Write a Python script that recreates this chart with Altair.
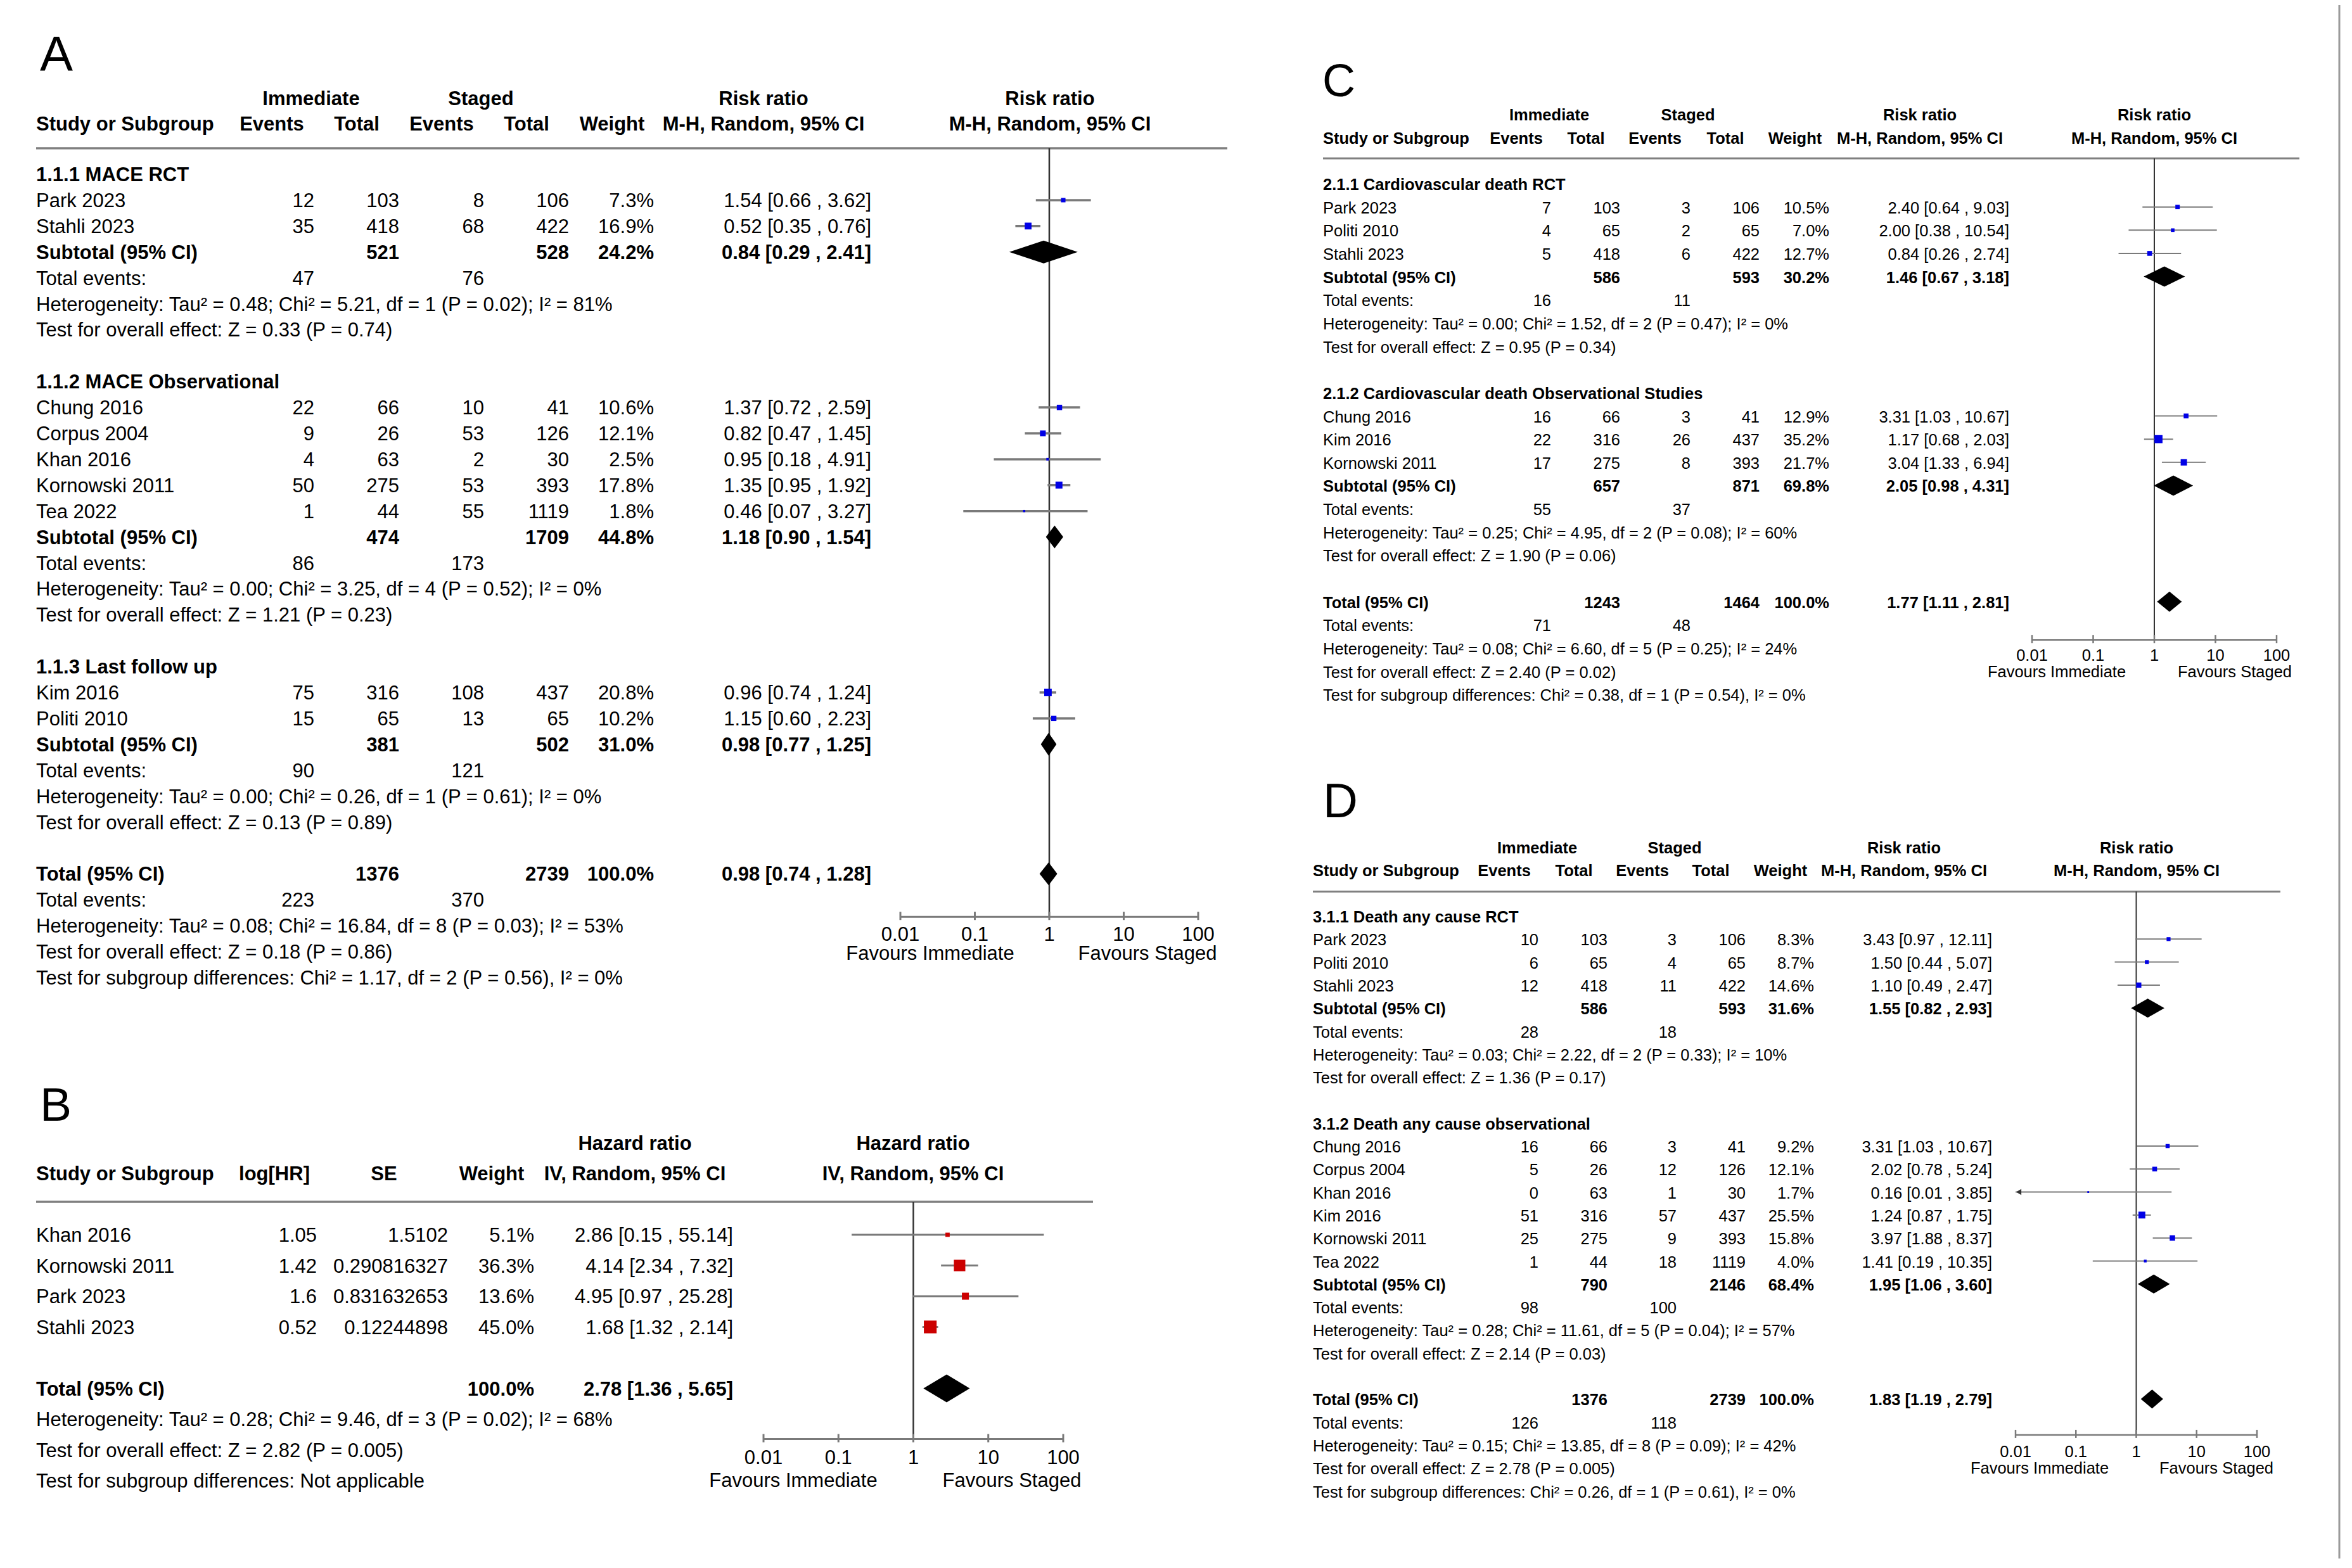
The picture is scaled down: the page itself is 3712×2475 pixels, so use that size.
import altair as alt
import pandas as pd

FONT = "Liberation Sans"
OX, OY = 8, 8
W, H = 3696, 2452
LINE_COL = "#808080"
CI_COL = "#7a7a7a"
NULL_COL = "#333333"
FRAME_COL = "#9a9a9a"
BLUE = "#0000e6"
RED = "#cc0000"

AX_TICKS = [0.01, 0.1, 1, 10, 100]
AX_LABELS = ["0.01", "0.1", "1", "10", "100"]
FAVOURS = ["Favours Immediate", "Favours Staged"]

RR_HEAD_TOP = ["Immediate", "Staged", "Risk ratio", "Risk ratio"]
RR_HEAD_BOT = ["Study or Subgroup", "Events", "Total", "Events", "Total", "Weight",
               "M-H, Random, 95% CI", "M-H, Random, 95% CI"]
B_HEAD_TOP = ["Hazard ratio", "Hazard ratio"]
B_HEAD_BOT = ["Study or Subgroup", "log[HR]", "SE", "Weight",
              "IV, Random, 95% CI", "IV, Random, 95% CI"]

# ===================== Panel A : MACE =====================
A_groups = ["1.1.1 MACE RCT", "1.1.2 MACE Observational", "1.1.3 Last follow up"]
A_study = ["Park 2023", "Stahli 2023", "Chung 2016", "Corpus 2004", "Khan 2016",
           "Kornowski 2011", "Tea 2022", "Kim 2016", "Politi 2010"]
A_group_of = [0, 0, 1, 1, 1, 1, 1, 2, 2]
A_ev_imm = [12, 35, 22, 9, 4, 50, 1, 75, 15]
A_tot_imm = [103, 418, 66, 26, 63, 275, 44, 316, 65]
A_ev_stg = [8, 68, 10, 53, 2, 53, 55, 108, 13]
A_tot_stg = [106, 422, 41, 126, 30, 393, 1119, 437, 65]
A_weight = [7.3, 16.9, 10.6, 12.1, 2.5, 17.8, 1.8, 20.8, 10.2]
A_rr = [1.54, 0.52, 1.37, 0.82, 0.95, 1.35, 0.46, 0.96, 1.15]
A_lo = [0.66, 0.35, 0.72, 0.47, 0.18, 0.95, 0.07, 0.74, 0.60]
A_hi = [3.62, 0.76, 2.59, 1.45, 4.91, 1.92, 3.27, 1.24, 2.23]
A_sub_tot_imm = [521, 474, 381]
A_sub_tot_stg = [528, 1709, 502]
A_sub_weight = [24.2, 44.8, 31.0]
A_sub_rr = [0.84, 1.18, 0.98]
A_sub_lo = [0.29, 0.90, 0.77]
A_sub_hi = [2.41, 1.54, 1.25]
A_sub_ev_imm = [47, 86, 90]
A_sub_ev_stg = [76, 173, 121]
A_sub_het = ["Heterogeneity: Tau² = 0.48; Chi² = 5.21, df = 1 (P = 0.02); I² = 81%",
             "Heterogeneity: Tau² = 0.00; Chi² = 3.25, df = 4 (P = 0.52); I² = 0%",
             "Heterogeneity: Tau² = 0.00; Chi² = 0.26, df = 1 (P = 0.61); I² = 0%"]
A_sub_z = ["Test for overall effect: Z = 0.33 (P = 0.74)",
           "Test for overall effect: Z = 1.21 (P = 0.23)",
           "Test for overall effect: Z = 0.13 (P = 0.89)"]
A_total_n = [1376, 2739]
A_total_ev = [223, 370]
A_total_rr = [0.98, 0.74, 1.28]
A_total_notes = ["Heterogeneity: Tau² = 0.08; Chi² = 16.84, df = 8 (P = 0.03); I² = 53%",
                 "Test for overall effect: Z = 0.18 (P = 0.86)",
                 "Test for subgroup differences: Chi² = 1.17, df = 2 (P = 0.56), I² = 0%"]

# ===================== Panel B : hazard ratio =====================
B_study = ["Khan 2016", "Kornowski 2011", "Park 2023", "Stahli 2023"]
B_loghr = ["1.05", "1.42", "1.6", "0.52"]
B_se = ["1.5102", "0.290816327", "0.831632653", "0.12244898"]
B_weight = [5.1, 36.3, 13.6, 45.0]
B_hr = [2.86, 4.14, 4.95, 1.68]
B_lo = [0.15, 2.34, 0.97, 1.32]
B_hi = [55.14, 7.32, 25.28, 2.14]
B_total_rr = [2.78, 1.36, 5.65]
B_total_notes = ["Heterogeneity: Tau² = 0.28; Chi² = 9.46, df = 3 (P = 0.02); I² = 68%",
                 "Test for overall effect: Z = 2.82 (P = 0.005)",
                 "Test for subgroup differences: Not applicable"]

# ===================== Panel C : cardiovascular death =====================
C_groups = ["2.1.1 Cardiovascular death RCT", "2.1.2 Cardiovascular death Observational Studies"]
C_study = ["Park 2023", "Politi 2010", "Stahli 2023", "Chung 2016", "Kim 2016", "Kornowski 2011"]
C_group_of = [0, 0, 0, 1, 1, 1]
C_ev_imm = [7, 4, 5, 16, 22, 17]
C_tot_imm = [103, 65, 418, 66, 316, 275]
C_ev_stg = [3, 2, 6, 3, 26, 8]
C_tot_stg = [106, 65, 422, 41, 437, 393]
C_weight = [10.5, 7.0, 12.7, 12.9, 35.2, 21.7]
C_rr = [2.40, 2.00, 0.84, 3.31, 1.17, 3.04]
C_lo = [0.64, 0.38, 0.26, 1.03, 0.68, 1.33]
C_hi = [9.03, 10.54, 2.74, 10.67, 2.03, 6.94]
C_sub_tot_imm = [586, 657]
C_sub_tot_stg = [593, 871]
C_sub_weight = [30.2, 69.8]
C_sub_rr = [1.46, 2.05]
C_sub_lo = [0.67, 0.98]
C_sub_hi = [3.18, 4.31]
C_sub_ev_imm = [16, 55]
C_sub_ev_stg = [11, 37]
C_sub_het = ["Heterogeneity: Tau² = 0.00; Chi² = 1.52, df = 2 (P = 0.47); I² = 0%",
             "Heterogeneity: Tau² = 0.25; Chi² = 4.95, df = 2 (P = 0.08); I² = 60%"]
C_sub_z = ["Test for overall effect: Z = 0.95 (P = 0.34)",
           "Test for overall effect: Z = 1.90 (P = 0.06)"]
C_total_n = [1243, 1464]
C_total_ev = [71, 48]
C_total_rr = [1.77, 1.11, 2.81]
C_total_notes = ["Heterogeneity: Tau² = 0.08; Chi² = 6.60, df = 5 (P = 0.25); I² = 24%",
                 "Test for overall effect: Z = 2.40 (P = 0.02)",
                 "Test for subgroup differences: Chi² = 0.38, df = 1 (P = 0.54), I² = 0%"]

# ===================== Panel D : death any cause =====================
D_groups = ["3.1.1 Death any cause RCT", "3.1.2 Death any cause observational"]
D_study = ["Park 2023", "Politi 2010", "Stahli 2023", "Chung 2016", "Corpus 2004",
           "Khan 2016", "Kim 2016", "Kornowski 2011", "Tea 2022"]
D_group_of = [0, 0, 0, 1, 1, 1, 1, 1, 1]
D_ev_imm = [10, 6, 12, 16, 5, 0, 51, 25, 1]
D_tot_imm = [103, 65, 418, 66, 26, 63, 316, 275, 44]
D_ev_stg = [3, 4, 11, 3, 12, 1, 57, 9, 18]
D_tot_stg = [106, 65, 422, 41, 126, 30, 437, 393, 1119]
D_weight = [8.3, 8.7, 14.6, 9.2, 12.1, 1.7, 25.5, 15.8, 4.0]
D_rr = [3.43, 1.50, 1.10, 3.31, 2.02, 0.16, 1.24, 3.97, 1.41]
D_lo = [0.97, 0.44, 0.49, 1.03, 0.78, 0.01, 0.87, 1.88, 0.19]
D_hi = [12.11, 5.07, 2.47, 10.67, 5.24, 3.85, 1.75, 8.37, 10.35]
D_sub_tot_imm = [586, 790]
D_sub_tot_stg = [593, 2146]
D_sub_weight = [31.6, 68.4]
D_sub_rr = [1.55, 1.95]
D_sub_lo = [0.82, 1.06]
D_sub_hi = [2.93, 3.60]
D_sub_ev_imm = [28, 98]
D_sub_ev_stg = [18, 100]
D_sub_het = ["Heterogeneity: Tau² = 0.03; Chi² = 2.22, df = 2 (P = 0.33); I² = 10%",
             "Heterogeneity: Tau² = 0.28; Chi² = 11.61, df = 5 (P = 0.04); I² = 57%"]
D_sub_z = ["Test for overall effect: Z = 1.36 (P = 0.17)",
           "Test for overall effect: Z = 2.14 (P = 0.03)"]
D_total_n = [1376, 2739]
D_total_ev = [126, 118]
D_total_rr = [1.83, 1.19, 2.79]
D_total_notes = ["Heterogeneity: Tau² = 0.15; Chi² = 13.85, df = 8 (P = 0.09); I² = 42%",
                 "Test for overall effect: Z = 2.78 (P = 0.005)",
                 "Test for subgroup differences: Chi² = 0.26, df = 1 (P = 0.61), I² = 0%"]

# ===================== layout (pixels of the reference) =====================
LAY_A = dict(letter="A", letter_xy=(63, 112), letter_fs=78,
             y0=275, dy=40.9, fs=31, head_rows=(-2.93, -1.96),
             cols=dict(label=(57, "left"), ev1=(496, "right"), tot1=(630, "right"),
                       ev2=(764, "right"), tot2=(898, "right"), w=(1032, "right"),
                       ci=(1375, "right")),
             head_top_x=[491, 759, 1205, 1657],
             head_bot_x=[57, 429, 563, 697, 831, 966, 1205, 1657],
             line_row=-1.0, line_x=(57, 1937), line_w=3.5,
             fx=(1421, 1891), axis_row=28.66, tick_row=29.31, fav_row=30.05,
             fav_x=(1468, 1811), sq=6.8, sq_col=BLUE, ci_w=3.5, dia_h=18,
             null_w=2.5, axis_w=3)
LAY_B = dict(letter="B", letter_xy=(63, 1769), letter_fs=75,
             y0=1949, dy=48.5, fs=31, head_rows=(-3, -2),
             cols=dict(label=(57, "left"), lhr=(500, "right"), se=(707, "right"),
                       w=(843, "right"), ci=(1157, "right")),
             head_top_x=[1002, 1441],
             head_bot_x=[57, 433, 606, 776, 1002, 1441],
             line_row=-1.07, line_x=(57, 1725), line_w=3.5,
             fx=(1205, 1678), axis_row=6.65, tick_row=7.24, fav_row=7.98,
             fav_x=(1252, 1597), sq=9.0, sq_col=RED, ci_w=3, dia_h=22,
             null_w=2.5, axis_w=3)
LAY_C = dict(letter="C", letter_xy=(2087, 152), letter_fs=72,
             y0=290, dy=36.65, fs=25.5, head_rows=(-3, -2),
             cols=dict(label=(2088, "left"), ev1=(2448, "right"), tot1=(2557, "right"),
                       ev2=(2668, "right"), tot2=(2777, "right"), w=(2887, "right"),
                       ci=(3171, "right")),
             head_top_x=[2445, 2664, 3030, 3400],
             head_bot_x=[2088, 2393, 2503, 2612, 2723, 2833, 3030, 3400],
             line_row=-1.09, line_x=(2088, 3629), line_w=3,
             fx=(3207, 3593), axis_row=19.65, tick_row=20.27, fav_row=20.98,
             fav_x=(3246, 3527), sq=4.6, sq_col=BLUE, ci_w=2, dia_h=16,
             null_w=2, axis_w=2.5)
LAY_D = dict(letter="D", letter_xy=(2088, 1290), letter_fs=76,
             y0=1446, dy=36.3, fs=25.5, head_rows=(-3, -2),
             cols=dict(label=(2072, "left"), ev1=(2428, "right"), tot1=(2537, "right"),
                       ev2=(2646, "right"), tot2=(2755, "right"), w=(2863, "right"),
                       ci=(3144, "right")),
             head_top_x=[2426, 2643, 3005, 3372],
             head_bot_x=[2072, 2374, 2484, 2592, 2700, 2810, 3005, 3372],
             line_row=-1.07, line_x=(2072, 3599), line_w=3,
             fx=(3181, 3562), axis_row=22.56, tick_row=23.25, fav_row=23.97,
             fav_x=(3219, 3498), sq=4.6, sq_col=BLUE, ci_w=2, dia_h=15,
             null_w=2, axis_w=2.5)
FRAME_X = 3692


def fmt_ci(e, l, h):
    return f"{e:.2f} [{l:.2f} , {h:.2f}]"


def build_rr(groups, group_of, study, ev1, tot1, ev2, tot2, wt, est, lo, hi,
             s_tot1, s_tot2, s_w, s_est, s_lo, s_hi, s_ev1, s_ev2, s_het, s_z,
             t_n, t_ev, t_rr, t_notes):
    texts, studies, diamonds = [], [], []
    r = 0
    for g, name in enumerate(groups):
        texts.append((r, "label", name, True))
        r += 1
        for i, gi in enumerate(group_of):
            if gi != g:
                continue
            texts += [(r, "label", study[i], False), (r, "ev1", str(ev1[i]), False),
                      (r, "tot1", str(tot1[i]), False), (r, "ev2", str(ev2[i]), False),
                      (r, "tot2", str(tot2[i]), False), (r, "w", f"{wt[i]:.1f}%", False),
                      (r, "ci", fmt_ci(est[i], lo[i], hi[i]), False)]
            studies.append(dict(row=r, est=est[i], lo=lo[i], hi=hi[i], w=wt[i]))
            r += 1
        texts += [(r, "label", "Subtotal (95% CI)", True), (r, "tot1", str(s_tot1[g]), True),
                  (r, "tot2", str(s_tot2[g]), True), (r, "w", f"{s_w[g]:.1f}%", True),
                  (r, "ci", fmt_ci(s_est[g], s_lo[g], s_hi[g]), True)]
        diamonds.append(dict(row=r, est=s_est[g], lo=s_lo[g], hi=s_hi[g]))
        r += 1
        texts += [(r, "label", "Total events:", False), (r, "ev1", str(s_ev1[g]), False),
                  (r, "ev2", str(s_ev2[g]), False)]
        r += 1
        texts.append((r, "label", s_het[g], False))
        r += 1
        texts.append((r, "label", s_z[g], False))
        r += 2
    texts += [(r, "label", "Total (95% CI)", True), (r, "tot1", str(t_n[0]), True),
              (r, "tot2", str(t_n[1]), True), (r, "w", "100.0%", True),
              (r, "ci", fmt_ci(*t_rr), True)]
    diamonds.append(dict(row=r, est=t_rr[0], lo=t_rr[1], hi=t_rr[2]))
    r += 1
    texts += [(r, "label", "Total events:", False), (r, "ev1", str(t_ev[0]), False),
              (r, "ev2", str(t_ev[1]), False)]
    r += 1
    for note in t_notes:
        texts.append((r, "label", note, False))
        r += 1
    return texts, studies, diamonds


def build_hr():
    texts, studies, diamonds = [], [], []
    for i, s in enumerate(B_study):
        texts += [(i, "label", s, False), (i, "lhr", B_loghr[i], False),
                  (i, "se", B_se[i], False), (i, "w", f"{B_weight[i]:.1f}%", False),
                  (i, "ci", fmt_ci(B_hr[i], B_lo[i], B_hi[i]), False)]
        studies.append(dict(row=i, est=B_hr[i], lo=B_lo[i], hi=B_hi[i], w=B_weight[i]))
    r = len(B_study) + 1
    texts += [(r, "label", "Total (95% CI)", True), (r, "w", "100.0%", True),
              (r, "ci", fmt_ci(*B_total_rr), True)]
    diamonds.append(dict(row=r, est=B_total_rr[0], lo=B_total_rr[1], hi=B_total_rr[2]))
    for k, note in enumerate(B_total_notes):
        texts.append((r + 1 + k, "label", note, False))
    return texts, studies, diamonds


def make_panel(L, texts, studies, diamonds, head_top, head_bot):
    dy = L["dy"]

    def py(r):
        return L["y0"] + r * dy - OY

    ysc = alt.Scale(domain=[-6, 40], range=[py(-6), py(40)], nice=False, zero=False)
    xsc = alt.Scale(type="log", domain=[0.01, 100],
                    range=[L["fx"][0] - OX, L["fx"][1] - OX], nice=False)

    def Y(f):
        return alt.Y(f, type="quantitative", scale=ysc, axis=None)

    def X(f):
        return alt.X(f, type="quantitative", scale=xsc, axis=None)

    fs = L["fs"]
    tdy = round(0.06 * fs)
    layers = []

    # panel letter
    layers.append(alt.Chart(pd.DataFrame({"t": [L["letter"]]})).mark_text(
        align="left", baseline="alphabetic", font=FONT, fontSize=L["letter_fs"],
        color="black").encode(x=alt.value(L["letter_xy"][0] - OX),
                              y=alt.value(L["letter_xy"][1] - OY), text="t:N"))

    # column headers
    for txt, x in zip(head_top, L["head_top_x"]):
        layers.append(alt.Chart(pd.DataFrame({"row": [L["head_rows"][0]], "t": [txt]})).mark_text(
            align="center", baseline="middle", dy=tdy, font=FONT, fontSize=fs,
            fontWeight="bold", color="black").encode(x=alt.value(x - OX), y=Y("row"), text="t:N"))
    for k, (txt, x) in enumerate(zip(head_bot, L["head_bot_x"])):
        layers.append(alt.Chart(pd.DataFrame({"row": [L["head_rows"][1]], "t": [txt]})).mark_text(
            align="left" if k == 0 else "center", baseline="middle", dy=tdy, font=FONT,
            fontSize=fs, fontWeight="bold", color="black").encode(
            x=alt.value(x - OX), y=Y("row"), text="t:N"))

    # header rule
    layers.append(alt.Chart(pd.DataFrame({"row": [L["line_row"]]})).mark_rule(
        color=LINE_COL, strokeWidth=L["line_w"]).encode(
        x=alt.value(L["line_x"][0] - OX), x2=alt.value(L["line_x"][1] - OX), y=Y("row")))

    # table body
    tdf = pd.DataFrame(texts, columns=["row", "col", "text", "bold"])
    for (col, bold), sub in tdf.groupby(["col", "bold"]):
        x, align = L["cols"][col]
        layers.append(alt.Chart(sub[["row", "text"]]).mark_text(
            align=align, baseline="middle", dy=tdy, font=FONT, fontSize=fs,
            fontWeight="bold" if bold else "normal", color="black").encode(
            x=alt.value(x - OX), y=Y("row"), text="text:N"))

    # null line
    layers.append(alt.Chart(pd.DataFrame({"x": [1.0], "r1": [L["line_row"]], "r2": [L["axis_row"]]}))
                  .mark_rule(color=NULL_COL, strokeWidth=L["null_w"]).encode(
        x=X("x"), y=Y("r1"), y2="r2:Q"))

    # axis
    layers.append(alt.Chart(pd.DataFrame({"a": [AX_TICKS[0]], "b": [AX_TICKS[-1]], "r": [L["axis_row"]]}))
                  .mark_rule(color=CI_COL, strokeWidth=L["axis_w"]).encode(
        x=X("a"), x2="b:Q", y=Y("r")))
    tk = pd.DataFrame({"t": AX_TICKS, "r1": [L["axis_row"] - 8 / dy] * len(AX_TICKS),
                       "r2": [L["axis_row"] + 5 / dy] * len(AX_TICKS)})
    layers.append(alt.Chart(tk).mark_rule(color=CI_COL, strokeWidth=L["axis_w"]).encode(
        x=X("t"), y=Y("r1"), y2="r2:Q"))
    tl = pd.DataFrame({"t": AX_TICKS, "lab": AX_LABELS, "r": [L["tick_row"]] * len(AX_TICKS)})
    layers.append(alt.Chart(tl).mark_text(align="center", baseline="middle", dy=tdy, font=FONT,
                                          fontSize=fs, color="black").encode(
        x=X("t"), y=Y("r"), text="lab:N"))
    for txt, x in zip(FAVOURS, L["fav_x"]):
        layers.append(alt.Chart(pd.DataFrame({"row": [L["fav_row"]], "t": [txt]})).mark_text(
            align="center", baseline="middle", dy=tdy, font=FONT, fontSize=fs,
            color="black").encode(x=alt.value(x - OX), y=Y("row"), text="t:N"))

    # study confidence intervals and squares
    sdf = pd.DataFrame(studies)
    layers.append(alt.Chart(sdf).mark_rule(color=CI_COL, strokeWidth=L["ci_w"]).encode(
        x=X("lo"), x2="hi:Q", y=Y("row")))
    layers.append(alt.Chart(sdf).mark_square(filled=True, opacity=1, color=L["sq_col"]).encode(
        x=X("est"), y=Y("row"),
        size=alt.Size("w:Q", scale=alt.Scale(domain=[0, 100], range=[0, L["sq"] * 100]),
                      legend=None)))
    adf = sdf[sdf["lo"] <= AX_TICKS[0]]
    if len(adf):
        layers.append(alt.Chart(adf).mark_point(shape="triangle-left", filled=True, opacity=1,
                                                size=90, color=NULL_COL, xOffset=5).encode(
            x=X("lo"), y=Y("row")))

    # pooled diamonds
    h = L["dia_h"] / dy
    drows = []
    for k, d in enumerate(diamonds):
        drows += [dict(id=k, x=d["lo"], ya=d["row"], yb=d["row"]),
                  dict(id=k, x=d["est"], ya=d["row"] - h, yb=d["row"] + h),
                  dict(id=k, x=d["hi"], ya=d["row"], yb=d["row"])]
    ddf = pd.DataFrame(drows)
    layers.append(alt.Chart(ddf).mark_area(color="black", opacity=1).encode(
        x=X("x"), y=alt.Y("ya:Q", scale=ysc, axis=None, stack=None), y2="yb:Q",
        detail="id:N"))
    return alt.layer(*layers)


tA = build_rr(A_groups, A_group_of, A_study, A_ev_imm, A_tot_imm, A_ev_stg, A_tot_stg,
              A_weight, A_rr, A_lo, A_hi, A_sub_tot_imm, A_sub_tot_stg, A_sub_weight,
              A_sub_rr, A_sub_lo, A_sub_hi, A_sub_ev_imm, A_sub_ev_stg, A_sub_het, A_sub_z,
              A_total_n, A_total_ev, A_total_rr, A_total_notes)
tC = build_rr(C_groups, C_group_of, C_study, C_ev_imm, C_tot_imm, C_ev_stg, C_tot_stg,
              C_weight, C_rr, C_lo, C_hi, C_sub_tot_imm, C_sub_tot_stg, C_sub_weight,
              C_sub_rr, C_sub_lo, C_sub_hi, C_sub_ev_imm, C_sub_ev_stg, C_sub_het, C_sub_z,
              C_total_n, C_total_ev, C_total_rr, C_total_notes)
tD = build_rr(D_groups, D_group_of, D_study, D_ev_imm, D_tot_imm, D_ev_stg, D_tot_stg,
              D_weight, D_rr, D_lo, D_hi, D_sub_tot_imm, D_sub_tot_stg, D_sub_weight,
              D_sub_rr, D_sub_lo, D_sub_hi, D_sub_ev_imm, D_sub_ev_stg, D_sub_het, D_sub_z,
              D_total_n, D_total_ev, D_total_rr, D_total_notes)
tB = build_hr()

pA = make_panel(LAY_A, *tA, RR_HEAD_TOP, RR_HEAD_BOT)
pB = make_panel(LAY_B, *tB, B_HEAD_TOP, B_HEAD_BOT)
pC = make_panel(LAY_C, *tC, RR_HEAD_TOP, RR_HEAD_BOT)
pD = make_panel(LAY_D, *tD, RR_HEAD_TOP, RR_HEAD_BOT)

# thin frame line at the right edge of the composite figure
frame = alt.Chart(pd.DataFrame({"k": [0]})).mark_rule(
    color=FRAME_COL, strokeWidth=3).encode(
    x=alt.value(FRAME_X - OX), y=alt.value(0), y2=alt.value(H))

chart = alt.layer(pA, pB, pC, pD, frame).resolve_scale(
    x="independent", y="independent", size="independent"
).properties(
    width=W, height=H, padding=0, background="white",
    autosize=alt.AutoSizeParams(type="none"),
).configure_view(stroke=None)

chart.save("out.html", embed_options={"renderer": "svg", "actions": False})
